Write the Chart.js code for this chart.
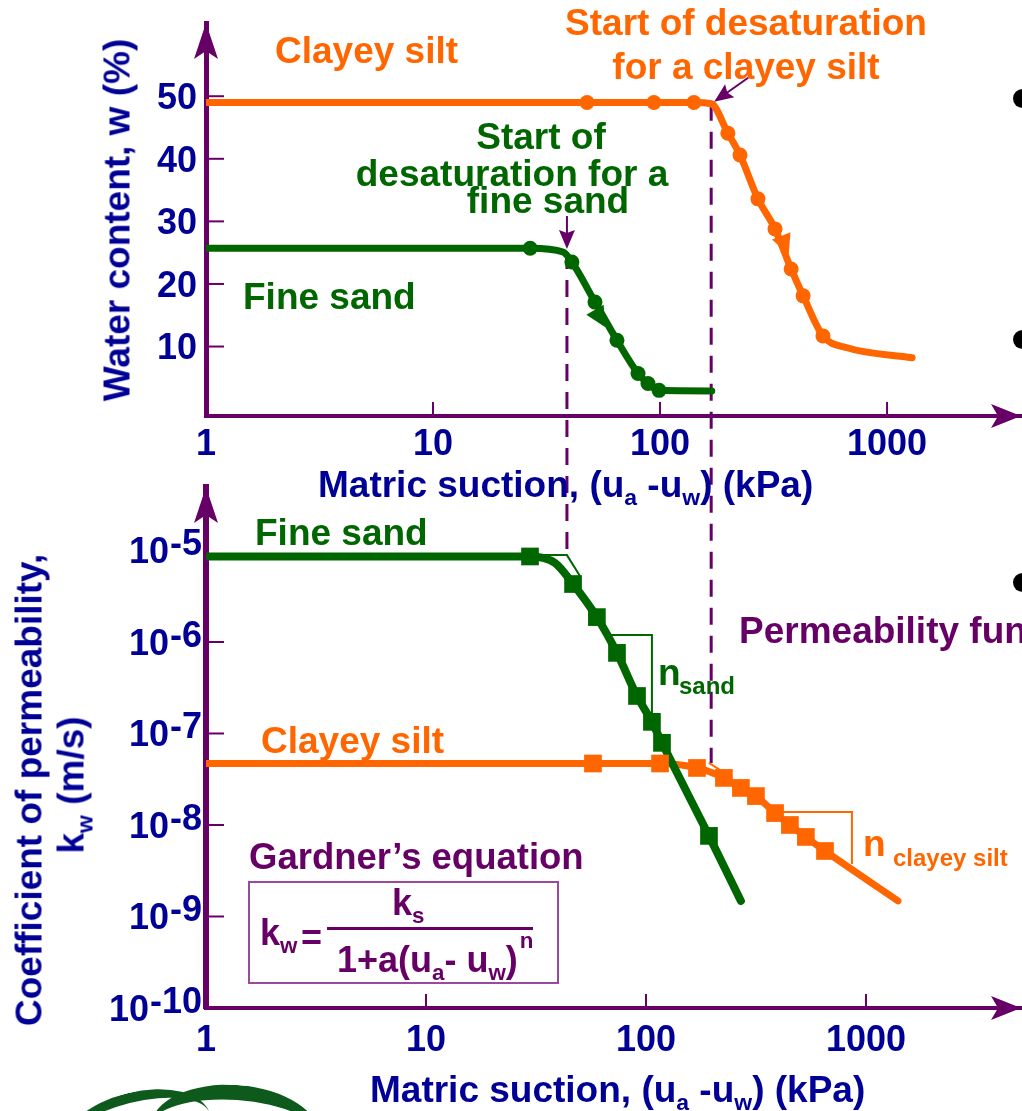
<!DOCTYPE html>
<html lang="en">
<head>
<meta charset="utf-8">
<title>Soil-water characteristic curves and permeability functions</title>
<script src="https://cdn.jsdelivr.net/npm/chart.js@4.4.1/dist/chart.umd.min.js"></script>
<style>
  html, body { margin: 0; padding: 0; background: #fff; }
  body { position: relative; width: 1022px; height: 1111px; overflow: hidden;
         font-family: "Liberation Sans", Arial, Helvetica, sans-serif; font-weight: bold; }
  canvas { position: absolute; left: 0; }
  #swcc { top: 0; }
  #perm { top: 480px; }
  .t { position: absolute; white-space: nowrap; line-height: 1; }
  .sb { font-size: 0.62em; position: relative; top: 0.38em; }
  .sp { font-size: 0.62em; position: relative; top: -1.05em; margin-left: 2px; }
  #gbox { position: absolute; left: 248px; top: 881px; width: 311px; height: 103px;
          box-sizing: border-box; border: 2px solid #9a4a9a; }
  #gbar { position: absolute; left: 327px; top: 927px; width: 206px; height: 3px; background: #660066; }
  .dot { position: absolute; width: 19px; height: 19px; border-radius: 50%; background: #000; }
  .leaf { position: absolute; border-radius: 50%; border-top-style: solid; border-top-color: #0d5a1c; }
</style>
</head>
<body>
<canvas id="swcc" width="1022" height="480"></canvas>
<canvas id="perm" width="1022" height="631"></canvas>
<div id="gbox"></div>
<div id="gbar"></div>
<div class="dot" style="left:1013px;top:89px"></div>
<div class="dot" style="left:1013px;top:330px"></div>
<div class="dot" style="left:1013px;top:573px"></div>
<div class="leaf" style="left:62px;top:1092px;width:150px;height:70px;border-top-width:10px;transform:rotate(-14deg)"></div>
<div class="leaf" style="left:150px;top:1085px;width:170px;height:80px;border-top-width:15px;transform:rotate(4deg)"></div>
<script>
const ORANGE = '#ff6600', GREEN = '#006600', PURPLE = '#660066', NAVY = '#000096';
const FONT = '"Liberation Sans", Arial, Helvetica, sans-serif';

// ---- Upper panel: gravimetric water content w (%) vs matric suction (kPa)
const siltSuction = [1, 47.7, 94, 141, 168, 199, 225, 270, 321, 378, 427, 522, 667, 1289];
const siltWater   = [49, 49, 49, 49, 48.8, 44.1, 40.6, 33.6, 28.8, 22.4, 18.1, 11.7, 9.8, 8.2];
const siltTestSuction = [47.7, 94, 141, 199, 225, 270, 321, 378, 427, 522];
const siltTestWater   = [49, 49, 49, 44.1, 40.6, 33.6, 28.8, 22.4, 18.1, 11.7];

const sandSuction = [1, 26.8, 37.4, 40.9, 51.7, 64.6, 80, 88.5, 99, 169];
const sandWater   = [25.7, 25.7, 25.1, 23.5, 17.1, 11.0, 5.7, 4.1, 3.0, 2.9];
const sandTestSuction = [26.8, 40.9, 51.7, 64.6, 80, 88.5, 99];
const sandTestWater   = [25.7, 23.5, 17.1, 11.0, 5.7, 4.1, 3.0];

// air-entry (start of desaturation): fine sand, clayey silt
const airEntrySuction = [38.9, 168];
const airEntryWater   = [25.1, 48.8];
const airEntryK       = [8.9e-6, 4.77e-8];

// drying-direction arrowheads on the curves: fine sand, clayey silt
const dryArrowSuction = [54.4, 355];
const dryArrowWater   = [14.5, 26.2];

const suctionTicks = [1, 10, 100, 1000];
const waterTicks   = [10, 20, 30, 40, 50];

// ---- Lower panel: coefficient of permeability kw (m/s) vs matric suction (kPa)
const sandKSuction = [1, 29.7, 38.6, 46.6, 59.8, 73.8, 91.0, 106.4, 118.2, 193.3, 270];
const sandK        = [8.6e-6, 8.6e-6, 7.3e-6, 4.3e-6, 1.87e-6, 7.6e-7, 2.57e-7, 1.34e-7, 7.9e-8, 7.6e-9, 1.48e-9];
const sandKTestSuction = [29.7, 46.6, 59.8, 73.8, 91.0, 106.4, 118.2, 193.3];
const sandKTest        = [8.6e-6, 4.3e-6, 1.87e-6, 7.6e-7, 2.57e-7, 1.34e-7, 7.9e-8, 7.6e-9];

const siltKSuction = [1, 57.4, 115.8, 170.5, 226, 270, 316, 386, 451, 533, 651, 1397];
const siltK        = [4.7e-8, 4.7e-8, 4.7e-8, 4.2e-8, 3.27e-8, 2.54e-8, 2.07e-8, 1.35e-8, 1.0e-8, 7.4e-9, 5.2e-9, 1.48e-9];
const siltKTestSuction = [57.4, 115.8, 170.5, 226, 270, 316, 386, 451, 533, 651];
const siltKTest        = [4.7e-8, 4.7e-8, 4.2e-8, 3.27e-8, 2.54e-8, 2.07e-8, 1.35e-8, 1.0e-8, 7.4e-9, 5.2e-9];

// slope constructions (tangent at air entry and the n triangles)
const sandTangentSuction = [31.9, 43.7, 50.1];
const sandTangentK       = [8.9e-6, 8.9e-6, 5.26e-6];
const sandSlopeSuction   = [68.6, 106.4, 106.4];
const sandSlopeK         = [1.19e-6, 1.19e-6, 1.48e-7];
const siltTangentSuction = [193, 221];
const siltTangentK       = [4.77e-8, 3.89e-8];
const siltSlopeSuction   = [415, 863, 863];
const siltSlopeK         = [1.39e-8, 1.39e-8, 3.75e-9];

const kTicks = [1e-10, 1e-9, 1e-8, 1e-7, 1e-6, 1e-5];

function pts(xs, ys) { return xs.map((x, i) => ({ x, y: ys[i] })); }

function arrowHead(ctx, x, y, ang, len, half, notch) {
  ctx.save();
  ctx.translate(x, y);
  ctx.rotate(ang);
  ctx.beginPath();
  ctx.moveTo(0, 0);
  ctx.lineTo(-len, -half);
  ctx.lineTo(-len + notch, 0);
  ctx.lineTo(-len, half);
  ctx.closePath();
  ctx.fill();
  ctx.restore();
}

function pointer(ctx, x0, y0, x1, y1) {
  ctx.save();
  ctx.strokeStyle = PURPLE; ctx.fillStyle = PURPLE; ctx.lineWidth = 2;
  const ang = Math.atan2(y1 - y0, x1 - x0);
  ctx.beginPath();
  ctx.moveTo(x0, y0);
  ctx.lineTo(x1 - Math.cos(ang) * 10, y1 - Math.sin(ang) * 10);
  ctx.stroke();
  arrowHead(ctx, x1, y1, ang, 19, 8, 3);
  ctx.restore();
}

function axisDecor(chart, xMarks, yMarks, yLen) {
  const { ctx, chartArea: a, scales: { x, y } } = chart;
  ctx.save();
  ctx.strokeStyle = PURPLE; ctx.fillStyle = PURPLE; ctx.lineWidth = 2;
  xMarks.forEach(v => {
    const px = x.getPixelForValue(v);
    ctx.beginPath(); ctx.moveTo(px, a.bottom); ctx.lineTo(px, a.bottom - 14); ctx.stroke();
  });
  yMarks.forEach(v => {
    const py = y.getPixelForValue(v);
    ctx.beginPath(); ctx.moveTo(a.left, py); ctx.lineTo(a.left + yLen, py); ctx.stroke();
  });
  arrowHead(ctx, a.left, a.top, -Math.PI / 2, 36, 12, 8);
  arrowHead(ctx, a.right, a.bottom, 0, 30, 12, 7);
  ctx.restore();
}

// keep the plot area exactly where the axes are set, ignoring label overhang
function fixX(h) { return s => { s.height = h; s.paddingLeft = 0; s.paddingRight = 0; }; }
function fixY(w) { return s => { s.width = w; s.paddingTop = 0; s.paddingBottom = 0; }; }

const swccDecor = {
  id: 'swccDecor',
  beforeDatasetsDraw(chart) {
    const { ctx, scales: { x, y } } = chart;
    ctx.save();
    ctx.strokeStyle = PURPLE; ctx.lineWidth = 3; ctx.setLineDash([17, 11]);
    airEntrySuction.forEach((s, i) => {
      const px = x.getPixelForValue(s), py = y.getPixelForValue(airEntryWater[i]);
      ctx.beginPath(); ctx.moveTo(px, py); ctx.lineTo(px, chart.height); ctx.stroke();
    });
    ctx.restore();
  },
  afterDatasetsDraw(chart) {
    const { ctx, scales: { x, y } } = chart;
    // drying direction arrowheads along each curve
    const curves = [[sandSuction, sandWater, GREEN], [siltSuction, siltWater, ORANGE]];
    curves.forEach(([cs, cw, col], k) => {
      const s = dryArrowSuction[k];
      let i = 0;
      while (i < cs.length - 2 && cs[i + 1] <= s) i++;
      const ang = Math.atan2(y.getPixelForValue(cw[i + 1]) - y.getPixelForValue(cw[i]),
                             x.getPixelForValue(cs[i + 1]) - x.getPixelForValue(cs[i]));
      const px = x.getPixelForValue(s), py = y.getPixelForValue(dryArrowWater[k]);
      ctx.fillStyle = col;
      arrowHead(ctx, px + Math.cos(ang) * 10, py + Math.sin(ang) * 10, ang, 20, 10, 0);
    });
    // pointers to the start of desaturation
    const tips = airEntrySuction.map((s, i) => [x.getPixelForValue(s), y.getPixelForValue(airEntryWater[i])]);
    pointer(ctx, tips[0][0], tips[0][1] - 36, tips[0][0], tips[0][1] - 3);
    pointer(ctx, tips[1][0] + 37, tips[1][1] - 26, tips[1][0] + 3, tips[1][1] - 2);
  },
  afterDraw(chart) { axisDecor(chart, suctionTicks.slice(1), waterTicks, 18); }
};

const tickFont = { family: FONT, size: 36, weight: 'bold' };

const swccChart = new Chart(document.getElementById('swcc'), {
  type: 'scatter',
  data: {
    datasets: [
      { data: pts(sandTestSuction, sandTestWater), pointRadius: 7.5, pointBackgroundColor: GREEN, pointBorderWidth: 0, order: 0 },
      { data: pts(siltTestSuction, siltTestWater), pointRadius: 7.5, pointBackgroundColor: ORANGE, pointBorderWidth: 0, order: 1 },
      { data: pts(sandSuction, sandWater), showLine: true, borderColor: GREEN, borderWidth: 7, pointRadius: 0,
        cubicInterpolationMode: 'monotone', borderCapStyle: 'round', borderJoinStyle: 'round', order: 2 },
      { data: pts(siltSuction, siltWater), showLine: true, borderColor: ORANGE, borderWidth: 7, pointRadius: 0,
        cubicInterpolationMode: 'monotone', borderCapStyle: 'round', borderJoinStyle: 'round', order: 3 }
    ]
  },
  options: {
    responsive: false, animation: false, events: [],
    layout: { autoPadding: false, padding: { left: 0, right: 1, top: 23, bottom: 0 } },
    plugins: { legend: { display: false }, tooltip: { enabled: false } },
    scales: {
      x: {
        type: 'logarithmic', min: 1, max: 3891,
        afterFit: fixX(64),
        afterBuildTicks(s) { s.ticks = suctionTicks.map(v => ({ value: v })); },
        grid: { display: false, drawTicks: false },
        border: { display: true, color: PURPLE, width: 4 },
        ticks: { font: tickFont, color: NAVY, padding: 7, maxRotation: 0, autoSkip: false, callback: v => String(v) }
      },
      y: {
        type: 'linear', min: -1.1, max: 61.7,
        afterFit: fixY(206),
        afterBuildTicks(s) { s.ticks = waterTicks.map(v => ({ value: v })); },
        grid: { display: false, drawTicks: false },
        border: { display: true, color: PURPLE, width: 5 },
        ticks: { font: tickFont, color: NAVY, padding: 9, labelOffset: 3 }
      }
    }
  },
  plugins: [swccDecor]
});

const permDecor = {
  id: 'permDecor',
  beforeDatasetsDraw(chart) {
    const { ctx, scales: { y } } = chart;
    const sx = swccChart.scales.x, sy = swccChart.scales.y;
    ctx.save();
    ctx.strokeStyle = PURPLE; ctx.lineWidth = 3; ctx.setLineDash([17, 11]);
    airEntrySuction.forEach((s, i) => {
      const px = sx.getPixelForValue(s);
      const start = sy.getPixelForValue(airEntryWater[i]);
      ctx.lineDashOffset = (swccChart.height - start) % 28;
      ctx.beginPath(); ctx.moveTo(px, 0); ctx.lineTo(px, y.getPixelForValue(airEntryK[i])); ctx.stroke();
    });
    ctx.restore();
  },
  afterDraw(chart) {
    const { ctx, chartArea: a, scales: { y } } = chart;
    axisDecor(chart, suctionTicks.slice(1), kTicks.slice(1, -1), 18);
    ctx.save();
    ctx.fillStyle = NAVY; ctx.textAlign = 'right'; ctx.textBaseline = 'middle';
    ctx.font = `bold 36px ${FONT}`;
    kTicks.forEach(v => {
      const py = y.getPixelForValue(v) + 3;
      const e = '-' + Math.abs(Math.round(Math.log10(v)));
      const xr = a.left - 4;
      ctx.fillText(e, xr, py - 8);
      ctx.fillText('10', xr - ctx.measureText(e).width - 1, py);
    });
    ctx.restore();
  }
};

const permChart = new Chart(document.getElementById('perm'), {
  type: 'scatter',
  data: {
    datasets: [
      { data: pts(sandKTestSuction, sandKTest), pointStyle: 'rect', pointRadius: 12.5, pointBackgroundColor: GREEN, pointBorderWidth: 0, order: 0 },
      { data: pts(siltKTestSuction, siltKTest), pointStyle: 'rect', pointRadius: 12.5, pointBackgroundColor: ORANGE, pointBorderWidth: 0, order: 1 },
      { data: pts(sandTangentSuction, sandTangentK), showLine: true, borderColor: GREEN, borderWidth: 2, pointRadius: 0, order: 2 },
      { data: pts(sandSlopeSuction, sandSlopeK), showLine: true, borderColor: GREEN, borderWidth: 2, pointRadius: 0, order: 2 },
      { data: pts(siltTangentSuction, siltTangentK), showLine: true, borderColor: ORANGE, borderWidth: 2, pointRadius: 0, order: 2 },
      { data: pts(siltSlopeSuction, siltSlopeK), showLine: true, borderColor: ORANGE, borderWidth: 2, pointRadius: 0, order: 2 },
      { data: pts(sandKSuction, sandK), showLine: true, borderColor: GREEN, borderWidth: 8, pointRadius: 0,
        cubicInterpolationMode: 'monotone', borderCapStyle: 'round', borderJoinStyle: 'round', order: 3 },
      { data: pts(siltKSuction, siltK), showLine: true, borderColor: ORANGE, borderWidth: 7, pointRadius: 0,
        cubicInterpolationMode: 'monotone', borderCapStyle: 'round', borderJoinStyle: 'round', order: 4 }
    ]
  },
  options: {
    responsive: false, animation: false, events: [],
    layout: { autoPadding: false, padding: { left: 0, right: 1, top: 7, bottom: 0 } },
    plugins: { legend: { display: false }, tooltip: { enabled: false } },
    scales: {
      x: {
        type: 'logarithmic', min: 1, max: 5064,
        afterFit: fixX(103),
        afterBuildTicks(s) { s.ticks = suctionTicks.map(v => ({ value: v })); },
        grid: { display: false, drawTicks: false },
        border: { display: true, color: PURPLE, width: 4 },
        ticks: { font: tickFont, color: NAVY, padding: 11, maxRotation: 0, autoSkip: false, callback: v => String(v) }
      },
      y: {
        type: 'logarithmic', min: 1e-10, max: 4.94e-5,
        afterFit: fixY(206),
        afterBuildTicks(s) { s.ticks = kTicks.map(v => ({ value: v })); },
        grid: { display: false, drawTicks: false },
        border: { display: true, color: PURPLE, width: 6 },
        ticks: { display: false }
      }
    }
  },
  plugins: [permDecor]
});

// ---- text placed by baseline
function put(html, x, base, size, color, align) {
  const el = document.createElement('div');
  el.className = 't';
  el.innerHTML = html;
  el.style.left = x + 'px';
  el.style.top = (base - 0.8465 * size) + 'px';
  el.style.fontSize = size + 'px';
  el.style.color = color;
  if (align === 'center') el.style.transform = 'translateX(-50%)';
  document.body.appendChild(el);
  return el;
}
function putV(html, baseX, cy, size, color) {
  const el = document.createElement('div');
  el.className = 't';
  el.innerHTML = html;
  el.style.left = (baseX - 0.3465 * size) + 'px';
  el.style.top = cy + 'px';
  el.style.fontSize = size + 'px';
  el.style.color = color;
  el.style.transform = 'translate(-50%, -50%) rotate(-90deg)';
  document.body.appendChild(el);
}

const suctionTitle = 'Matric suction, (u<span class="sb">a</span> -u<span class="sb">w</span>) (kPa)';

put('Clayey silt', 275, 63, 37, ORANGE);
put('Start of desaturation', 746, 35, 37, ORANGE, 'center');
put('for a clayey silt', 746, 79, 37, ORANGE, 'center');
put('Start of', 541, 149, 37, GREEN, 'center');
put('desaturation for a', 512, 186, 37, GREEN, 'center');
put('fine sand', 548, 213, 37, GREEN, 'center');
put('Fine sand', 243, 309, 37, GREEN);
putV('Water content, w (%)', 130, 220, 37, NAVY);
put(suctionTitle, 318, 497, 37, NAVY);

put('Fine sand', 255, 545, 37, GREEN);
put('Clayey silt', 261, 753, 37, ORANGE);
put('Permeability function', 739, 643, 37, PURPLE);
put('n', 658, 685, 37, GREEN);
put('sand', 679, 694, 24, GREEN);
put('n', 863, 856, 37, ORANGE);
put('clayey silt', 893, 866, 24, ORANGE);
put('Gardner’s equation', 249, 870, 36.5, PURPLE);
put('k<span class="sb">w</span>', 260, 945, 36, PURPLE);
put('=', 301, 950, 36, PURPLE);
put('k<span class="sb">s</span>', 392, 915, 36, PURPLE);
put('1+a(u<span class="sb">a</span>- u<span class="sb">w</span>)<span class="sp">n</span>', 337, 972, 36, PURPLE);
putV('Coefficient of permeability,', 42, 790, 37, NAVY);
putV('k<span class="sb">w</span> (m/s)', 84, 785, 37, NAVY);
put(suctionTitle, 370, 1102, 37, NAVY);
</script>
</body>
</html>
